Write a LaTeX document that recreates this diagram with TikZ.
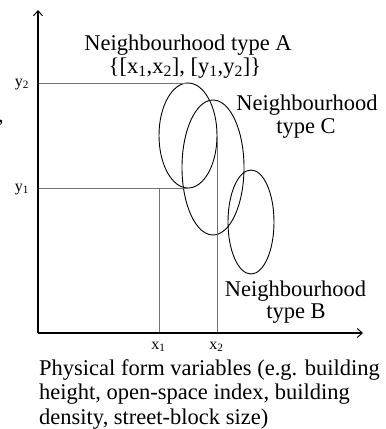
\documentclass[tikz,border=0pt]{standalone}
\usepackage{fontspec}
\setmainfont{Liberation Serif}
\usetikzlibrary{shapes.geometric,arrows.meta}
\tikzset{
  big/.style={font=\fontsize{22.5}{25}\selectfont, inner sep=0pt},
  lab/.style={font=\fontsize{16}{18}\selectfont, inner sep=0pt},
  axis/.style={line width=1.4pt, -{Straight Barb[length=5pt,width=9pt,line width=1pt]}},
  guide/.style={line width=0.8pt, draw=black!55},
  hood/.style={ellipse, draw, line width=0.9pt, inner sep=0pt, outer sep=0pt}
}
\begin{document}
\begin{tikzpicture}[x=1pt,y=-1pt]
\useasboundingbox (0,0) rectangle (386,429);
% axes
\coordinate (O) at (38,333);
\coordinate (ytip) at (38,10);
\coordinate (xtip) at (363,333);
% neighbourhood ellipses
\node[hood, minimum width=58pt, minimum height=105pt] (A) at (188,135.5) {};
\node[hood, minimum width=62pt, minimum height=135pt] (C) at (213,167.5) {};
\node[hood, minimum width=46pt, minimum height=104pt] (B) at (251,222) {};
% guide lines
\draw[guide] (O |- A.north) -- (A.north);
\draw[guide] (O |- A.south) -- (A.south);
\draw[guide] (A.west |- A.south) -- (A.west |- O);
\draw[guide] (A.east) -- (A.east |- O);
\draw[axis] (O) -- (ytip);
\draw[axis] (O) -- (xtip);
% axis value labels
\node[lab, anchor=base] (ly2) at (22,86) {y\textsubscript{2}};
\node[lab, anchor=base] (ly1) at (22,191) {y\textsubscript{1}};
\node[lab, anchor=base] (lx1) at (158.5,349) {x\textsubscript{1}};
\node[lab, anchor=base] (lx2) at (216.5,349) {x\textsubscript{2}};
% texts
\node[big, anchor=base] (tA1) at (188,50.7) {Neighbourhood type A};
\node[big, anchor=base] (tA2) at (185,73) {\{[x\textsubscript{1},x\textsubscript{2}], [y\textsubscript{1},y\textsubscript{2}]\}};
\node[big, anchor=base] (tC1) at (307,110.7) {Neighbourhood};
\node[big, anchor=base] (tC2) at (306,133) {type C};
\node[big, anchor=base] (tB1) at (295.5,296) {Neighbourhood};
\node[big, anchor=base] (tB2) at (296,318) {type B};
\node[big, anchor=base west] (b1) at (39,375) {Physical form variables (e.g. building};
\node[big, anchor=base west] (b2) at (39,399.5) {height, open-space index, building};
\node[big, anchor=base west] (b3) at (39,424) {density, street-block size)};
\node[big, anchor=base east] (cm) at (4,122) {,};
\end{tikzpicture}
\end{document}
